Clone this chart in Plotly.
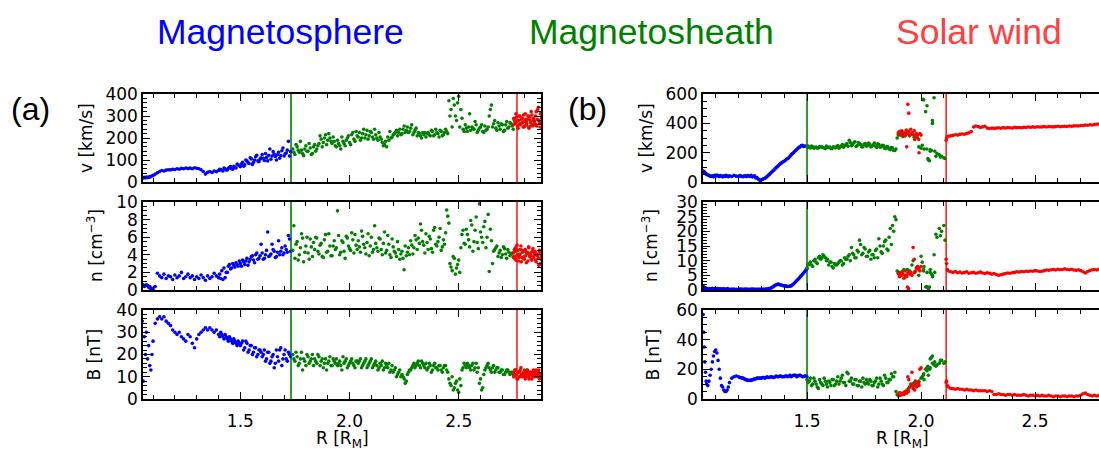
import plotly.graph_objects as go

# ---------------- Panel (a) data ----------------
# Magnetosphere (blue)
a_msp_R = [
    1.050, 1.055, 1.060, 1.065, 1.070, 1.075, 1.080, 1.085, 1.090, 1.095,
    1.100, 1.11, 1.12, 1.13, 1.14, 1.15, 1.16, 1.17, 1.18, 1.19,
    1.20, 1.21, 1.22, 1.23, 1.24, 1.25, 1.26, 1.27, 1.28, 1.29,
    1.30, 1.31, 1.32, 1.33, 1.34, 1.35, 1.36, 1.37, 1.38, 1.39,
    1.40, 1.41, 1.42, 1.43, 1.44, 1.45, 1.46, 1.47, 1.48, 1.49,
    1.50, 1.51, 1.52, 1.53, 1.54, 1.55, 1.56, 1.57, 1.58, 1.59,
    1.60, 1.61, 1.62, 1.63, 1.64, 1.65, 1.66, 1.67, 1.68, 1.69,
    1.70, 1.71, 1.72, 1.73,
    1.505, 1.515, 1.525, 1.535, 1.545, 1.555, 1.565, 1.575, 1.585, 1.595,
    1.605, 1.615, 1.625, 1.635, 1.645, 1.655, 1.665, 1.675, 1.685, 1.695,
    1.705, 1.715, 1.725,
    1.405, 1.415, 1.425, 1.435, 1.445, 1.455, 1.465, 1.475, 1.485, 1.495,
]
a_msp_v = [
    20, 18, 21, 19, 22, 20, 23, 22, 25, 27,
    30, 36, 42, 48, 52, 50, 54, 56, 55, 58,
    57, 60, 58, 62, 60, 64, 61, 63, 60, 65,
    62, 60, 56, 48, 36, 44, 48, 43, 50, 47,
    52, 57, 50, 60, 55, 66, 60, 72, 64, 78,
    70, 90, 78, 96, 84, 105, 90, 115, 96, 104,
    125, 98, 112, 122, 104, 138, 116, 124, 108, 142,
    118, 132, 185, 138,
    82, 72, 100, 88, 110, 80, 100, 122, 92, 110,
    108, 130, 96, 150, 118, 126, 100, 135, 120, 155,
    128, 145, 118,
    58, 52, 64, 55, 62, 70, 58, 68, 82, 74,
]
a_msp_n = [
    0.5, 0.6, 0.4, 0.5, 0.6, 0.5, 0.3, 0.4, 0.1, 0.2,
    0.1, 0.4, 1.9, 1.6, 1.4, 1.8, 1.3, 1.6, 1.5, 1.2,
    1.7, 1.4, 1.6, 2.0, 1.3, 1.5, 1.8, 1.4, 1.6, 1.2,
    1.5, 1.3, 1.7, 1.4, 1.1, 1.6, 1.3, 1.5, 1.9, 1.6,
    1.4, 1.3, 1.2, 1.4, 2.0, 2.9, 2.5, 2.8, 3.1, 2.7,
    3.0, 3.4, 2.9, 3.6, 3.2, 3.8, 3.4, 4.0, 3.5, 3.9,
    4.2, 3.6, 4.5, 3.8, 4.1, 4.6, 3.7, 4.3, 4.0, 4.8,
    4.2, 4.6, 6.2, 4.4,
    2.7, 3.2, 3.3, 2.8, 3.5, 3.9, 3.1, 4.2, 3.6, 5.2,
    3.5, 4.0, 6.6, 3.9, 5.2, 4.4, 3.8, 5.6, 4.4, 4.0,
    5.0, 4.3, 5.8,
    1.8, 2.2, 2.5, 2.0, 2.7, 2.4, 3.0, 2.6, 2.9, 3.3,
]
a_msp_B = [
    35, 8, 28, 20, 30, 18, 24, 15, 13, 20,
    26, 34, 36, 37, 36, 37, 35, 34, 33, 31,
    30, 29, 30, 28, 27, 26, 29, 28, 25, 23,
    27, 29, 30, 31, 32, 31, 32, 31, 30, 31,
    29, 30, 28, 29, 27, 28, 26, 27, 25, 26,
    24, 26, 23, 25, 22, 24, 21, 23, 20, 22,
    19, 22, 18, 21, 17, 20, 16, 19, 22, 15,
    20, 18, 21, 19,
    25, 22, 26, 21, 24, 20, 23, 19, 22, 21,
    20, 17, 21, 16, 19, 14, 22, 17, 23, 18,
    22, 17, 20,
    28, 29, 27, 28, 26, 27, 25, 26, 24, 25,
]

# Magnetosheath (green)
a_msh_R = [
    1.74, 1.75, 1.76, 1.77, 1.78, 1.79, 1.80, 1.81, 1.82, 1.83,
    1.84, 1.85, 1.86, 1.87, 1.88, 1.89, 1.90, 1.91, 1.92, 1.93,
    1.94, 1.95, 1.96, 1.97, 1.98, 1.99, 2.00, 2.01, 2.02, 2.03,
    2.04, 2.05, 2.06, 2.07, 2.08, 2.09, 2.10, 2.11, 2.12, 2.13,
    2.14, 2.15, 2.16, 2.17, 2.18, 2.19, 2.20, 2.21, 2.22, 2.23,
    2.24, 2.25, 2.26, 2.27, 2.28, 2.29, 2.30, 2.31, 2.32, 2.33,
    2.34, 2.35, 2.36, 2.37, 2.38, 2.39, 2.40, 2.41, 2.42, 2.43,
    2.44, 2.45, 2.46, 2.47, 2.48, 2.49, 2.50, 2.51, 2.52, 2.53,
    2.54, 2.55, 2.56, 2.57, 2.58, 2.59, 2.60, 2.61, 2.62, 2.63,
    2.64, 2.65, 2.66, 2.67, 2.68, 2.69, 2.70, 2.71, 2.72, 2.73,
    2.74, 2.75, 2.76,
    1.745, 1.755, 1.765, 1.775, 1.785, 1.795, 1.805, 1.815, 1.825, 1.835,
    1.845, 1.855, 1.865, 1.875, 1.885, 1.895, 1.905, 1.915, 1.925, 1.935,
    1.945, 1.955, 1.965, 1.975, 1.985, 1.995, 2.005, 2.015, 2.025, 2.035,
    2.045, 2.055, 2.065, 2.075, 2.085, 2.095, 2.105, 2.115, 2.125, 2.135,
    2.145, 2.155, 2.165, 2.175, 2.185, 2.195, 2.205, 2.215, 2.225, 2.235,
    2.245, 2.255, 2.265, 2.275, 2.285, 2.295, 2.305, 2.315, 2.325, 2.335,
    2.345, 2.355, 2.365, 2.375, 2.385, 2.395, 2.405, 2.415, 2.425, 2.435,
    2.445, 2.455, 2.465, 2.475, 2.485, 2.495, 2.505, 2.515, 2.525, 2.535,
    2.545, 2.555, 2.565, 2.575, 2.585, 2.595, 2.605, 2.615, 2.625, 2.635,
    2.645, 2.655, 2.665, 2.675, 2.685, 2.695, 2.705, 2.715, 2.725, 2.735,
    2.745, 2.755, 2.78, 2.79, 2.80, 2.81, 2.82, 2.83, 2.84, 2.85,
]
a_msh_v = [
    150, 125, 160, 135, 145, 120, 165, 140, 155, 130,
    170, 150, 175, 195, 180, 215, 190, 200, 175, 185,
    160, 175, 150, 185, 165, 200, 180, 215, 195, 230,
    205, 190, 220, 200, 235, 210, 225, 195, 215, 190,
    205, 180, 170, 160, 190, 200, 215, 225, 210, 240,
    220, 255, 235, 225, 245, 215, 235, 210, 220, 200,
    215, 205, 225, 210, 230, 215, 225, 205, 230, 215,
    240, 220, 300, 250, 350, 280, 390, 330, 240, 260,
    230, 310, 250, 240, 260, 235, 250, 230, 255, 240,
    300, 350, 265, 245, 270, 240, 260, 235, 275, 250,
    265, 240, 270,
    135, 170, 145, 185, 130, 150, 140, 175, 125, 160,
    140, 165, 210, 160, 200, 170, 220, 185, 205, 165,
    190, 165, 205, 175, 190, 210, 170, 225, 185, 210,
    225, 200, 240, 215, 195, 230, 205, 240, 200, 225,
    195, 165, 185, 205, 230, 205, 220, 235, 225, 215,
    240, 225, 250, 230, 260, 225, 245, 225, 210, 225,
    225, 220, 215, 235, 210, 240, 220, 235, 210, 225,
    230, 370, 330, 380, 300, 360, 250, 290, 230, 245,
    250, 235, 245, 275, 225, 245, 260, 225, 235, 250,
    330, 250, 280, 235, 255, 265, 230, 260, 245, 270,
    255, 280, 265, 290, 250, 275, 300, 255, 280, 260,
]
a_msh_n = [
    4.5, 3.6, 5.5, 4.0, 6.4, 3.2, 5.0, 4.2, 5.8, 3.8,
    4.6, 5.9, 4.1, 5.3, 3.7, 6.3, 4.4, 5.0, 3.9, 5.6,
    4.8, 6.2, 4.3, 5.4, 3.6, 5.9, 4.7, 6.5, 4.2, 5.1,
    5.6, 4.3, 6.1, 4.8, 5.4, 3.9, 6.0, 4.6, 5.3, 4.4,
    5.8, 4.0, 6.6, 4.5, 5.2, 3.7, 4.9, 4.2, 5.5, 3.5,
    4.4, 2.3, 3.9, 4.8, 5.6, 4.1, 6.2, 4.6, 5.3, 6.8,
    5.1, 6.4, 4.6, 5.8, 4.3, 7.1, 5.0, 6.0, 4.5, 5.7,
    6.5, 8.4, 3.0, 2.2, 3.6, 2.5, 3.4, 4.8, 6.8, 5.2,
    6.3, 4.9, 7.4, 5.5, 8.3, 4.7, 6.6, 5.4, 7.8, 6.0,
    2.1, 5.6, 4.4, 4.8, 3.8, 4.5, 4.0, 4.7, 3.6, 4.3,
    4.1, 3.7, 4.4,
    7.3, 5.2, 3.4, 4.8, 5.9, 4.3, 6.0, 3.5, 4.9, 5.4,
    6.0, 4.4, 5.1, 3.8, 5.7, 4.3, 6.4, 3.9, 5.0, 4.6,
    9.0, 4.0, 5.6, 4.4, 6.1, 5.0, 4.5, 5.7, 6.3, 4.6,
    4.9, 6.7, 5.2, 4.1, 6.4, 5.0, 4.3, 7.3, 4.8, 5.9,
    4.6, 5.3, 4.2, 6.2, 4.0, 5.8, 4.4, 3.8, 4.6, 4.1,
    3.6, 5.0, 4.3, 4.0, 5.1, 4.8, 5.7, 5.9, 7.5, 5.5,
    4.2, 5.4, 6.1, 4.7, 6.8, 5.2, 5.5, 7.0, 4.9, 5.2,
    9.1, 7.6, 2.6, 3.8, 1.8, 2.9, 2.0, 6.3, 5.3, 6.9,
    5.7, 7.9, 4.4, 6.8, 5.4, 9.8, 6.0, 7.2, 4.8, 8.6,
    6.9, 3.0, 4.6, 5.0, 4.2, 3.7, 4.9, 4.1, 4.6, 3.9,
    4.2, 4.6, 4.0, 4.5, 3.8, 4.3, 4.1, 3.9, 4.4, 4.0,
]
a_msh_B = [
    20, 17, 19, 16, 21, 18, 15, 19, 17, 20,
    18, 16, 19, 17, 14, 18, 16, 19, 15, 17,
    18, 16, 15, 19, 17, 14, 16, 18, 15, 17,
    16, 18, 15, 17, 14, 16, 18, 15, 17, 13,
    16, 17, 14, 15, 16, 13, 12, 14, 11, 13,
    11, 9, 8, 12, 13, 15, 14, 16, 15, 17,
    15, 16, 14, 15, 13, 16, 14, 15, 13, 14,
    15, 12, 7, 10, 5, 8, 3, 6, 14, 15,
    16, 14, 15, 13, 16, 14, 9, 5, 13, 15,
    14, 12, 15, 13, 14, 12, 13, 11, 13, 12,
    12, 11, 13,
    18, 21, 15, 18, 13, 17, 20, 16, 18, 15,
    17, 20, 15, 18, 16, 13, 17, 15, 18, 16,
    15, 17, 13, 16, 18, 15, 17, 16, 14, 17,
    17, 14, 16, 18, 15, 17, 14, 16, 15, 14,
    15, 13, 16, 14, 12, 15, 13, 10, 12, 10,
    10, 7, 11, 13, 14, 16, 15, 17, 14, 16,
    14, 13, 16, 12, 15, 14, 13, 15, 12, 15,
    13, 9, 6, 4, 7, 4, 9, 13, 16, 14,
    15, 13, 16, 14, 12, 7, 4, 11, 14, 16,
    13, 14, 12, 14, 12, 13, 11, 12, 13, 11,
    12, 11, 12, 11, 13, 12, 11, 12, 11, 12,
]

# Solar wind (red)
a_sw_R = [
    2.750, 2.755, 2.760, 2.765, 2.770, 2.775, 2.780, 2.785, 2.790, 2.795,
    2.800, 2.805, 2.810, 2.815, 2.820, 2.825, 2.830, 2.835, 2.840, 2.845,
    2.850, 2.855, 2.860, 2.865, 2.870, 2.875, 2.880,
    2.752, 2.757, 2.762, 2.767, 2.772, 2.777, 2.782, 2.787, 2.792, 2.797,
    2.802, 2.807, 2.812, 2.817, 2.822, 2.827, 2.832, 2.837, 2.842, 2.847,
    2.852, 2.857, 2.862, 2.867, 2.872, 2.877,
]
a_sw_v = [
    260, 285, 270, 295, 255, 280, 300, 265, 290, 250,
    275, 310, 260, 285, 250, 295, 270, 305, 255, 280,
    265, 320, 285, 340, 270, 310, 290,
    290, 265, 310, 275, 245, 300, 260, 285, 270, 305,
    255, 285, 265, 300, 245, 280, 320, 260, 290, 275,
    300, 255, 330, 280, 250, 315,
]
a_sw_n = [
    4.2, 3.6, 4.8, 3.9, 4.5, 3.3, 4.1, 5.0, 3.7, 4.4,
    3.5, 4.6, 3.1, 4.3, 4.9, 3.8, 4.2, 3.4, 4.7, 3.9,
    4.4, 3.2, 4.0, 3.6, 4.5, 3.0, 3.8,
    3.8, 4.5, 3.4, 5.1, 4.0, 3.7, 4.6, 3.2, 4.3, 3.6,
    4.5, 3.9, 4.2, 3.3, 4.8, 4.0, 3.5, 4.4, 3.7, 4.2,
    3.4, 4.1, 3.9, 2.8, 4.3, 3.5,
]
a_sw_B = [
    12, 10, 13, 11, 9, 12, 10, 14, 11, 10,
    12, 9, 11, 13, 10, 12, 11, 9, 12, 10,
    11, 13, 10, 12, 9, 11, 10,
    10, 13, 11, 9, 12, 10, 13, 11, 10, 12,
    11, 10, 13, 12, 9, 11, 12, 10, 13, 11,
    10, 12, 11, 13, 10, 11,
]
a_boundaries = [1.732, 2.767]

# ---------------- Panel (b) data ----------------
b_msp_R = [
    1.045, 1.048, 1.050, 1.052, 1.055, 1.058, 1.060, 1.065, 1.070, 1.075,
    1.080, 1.085, 1.090, 1.095, 1.100, 1.105, 1.110, 1.115, 1.120, 1.125,
    1.130, 1.135, 1.140, 1.145, 1.150, 1.155, 1.160, 1.170, 1.180, 1.190,
    1.20, 1.21, 1.22, 1.23, 1.24, 1.25, 1.26, 1.27, 1.28, 1.29,
    1.30, 1.31, 1.32, 1.33, 1.34, 1.35, 1.36, 1.37, 1.38, 1.39,
    1.40, 1.41, 1.42, 1.43, 1.44, 1.45, 1.46, 1.47, 1.48, 1.49,
    1.50, 1.205, 1.215, 1.225, 1.235, 1.245, 1.255, 1.265, 1.275, 1.285,
    1.295, 1.305, 1.315, 1.325, 1.335, 1.345, 1.355, 1.365, 1.375, 1.385,
    1.395, 1.405, 1.415, 1.425, 1.435, 1.445, 1.455, 1.465, 1.475, 1.485,
    1.495,
]
b_msp_v = [
    75, 62, 70, 58, 60, 55, 52, 48, 45, 40,
    38, 42, 35, 45, 40, 48, 42, 38, 44, 40,
    35, 42, 38, 45, 40, 36, 42, 38, 45, 40,
    38, 42, 36, 40, 44, 38, 35, 42, 30, 15,
    15, 22, 30, 45, 60, 75, 90, 105, 120, 132,
    142, 155, 165, 185, 200, 215, 230, 240, 250, 245,
    242, 44, 38, 42, 37, 41, 45, 38, 28, 22,
    12, 18, 26, 38, 52, 68, 82, 98, 112, 128,
    138, 148, 160, 175, 192, 208, 222, 236, 248, 242,
    244,
]
b_msp_n = [
    1.2, 0.6, 0.9, 0.4, 0.7, 0.3, 0.6, 0.4, 0.3, 0.5,
    0.4, 0.6, 0.3, 0.5, 0.4, 0.3, 0.5, 0.3, 0.4, 0.3,
    0.3, 0.4, 0.2, 0.3, 0.4, 0.3, 0.2, 0.3, 0.3, 0.2,
    0.2, 0.3, 0.2, 0.3, 0.2, 0.2, 0.3, 0.2, 0.2, 0.2,
    0.2, 0.2, 0.3, 0.4, 0.6, 1.0, 1.6, 1.9, 1.8, 1.6,
    1.4, 1.3, 1.2, 1.4, 2.0, 2.8, 3.6, 4.5, 5.4, 6.3,
    7.2, 0.2, 0.2, 0.2, 0.2, 0.2, 0.2, 0.2, 0.2, 0.2,
    0.2, 0.2, 0.2, 0.3, 0.5, 0.8, 1.3, 1.8, 2.0, 1.7,
    1.5, 1.3, 1.2, 1.3, 1.7, 2.4, 3.2, 4.0, 4.9, 5.8,
    6.8,
]
b_msp_B = [
    57, 45, 35, 25, 18, 12, 10, 9, 12, 16,
    20, 25, 29, 32, 33, 31, 26, 20, 14, 9,
    8, 6, 5, 5, 6, 8, 11, 14, 15, 15.5,
    15, 14.5, 14, 13, 12.5, 12.5, 13, 13.5, 14, 14,
    14, 14.5, 14.5, 14.5, 15, 14.5, 15, 15, 15.5, 15,
    15, 15.5, 15.5, 15, 16, 16, 15.5, 16, 15, 15.5,
    15, 14.5, 14, 13.5, 13, 12.5, 12.5, 13, 13.5, 14,
    14, 14.5, 14, 15, 14.5, 15, 14.5, 15.5, 15, 15.5,
    15, 15.5, 15, 16, 15.5, 16, 15, 16, 15.5, 15,
    15.5,
]

b_msh_R = [
    1.50, 1.51, 1.52, 1.53, 1.54, 1.55, 1.56, 1.57, 1.58, 1.59,
    1.60, 1.61, 1.62, 1.63, 1.64, 1.65, 1.66, 1.67, 1.68, 1.69,
    1.70, 1.71, 1.72, 1.73, 1.74, 1.75, 1.76, 1.77, 1.78, 1.79,
    1.80, 1.81, 1.82, 1.83, 1.84, 1.85, 1.86, 1.87, 1.88, 1.89,
    1.895, 1.90, 1.91, 1.92, 1.93, 1.94, 1.95, 1.96, 1.97, 1.98,
    1.99, 2.00, 2.01, 2.02, 2.03, 2.04, 2.05, 2.06, 2.07, 2.08,
    2.09, 2.10, 2.105, 1.505, 1.515, 1.525, 1.535, 1.545, 1.555, 1.565,
    1.575, 1.585, 1.595, 1.605, 1.615, 1.625, 1.635, 1.645, 1.655, 1.665,
    1.675, 1.685, 1.695, 1.705, 1.715, 1.725, 1.735, 1.745, 1.755, 1.765,
    1.775, 1.785, 1.795, 1.805, 1.815, 1.825, 1.835, 1.845, 1.855, 1.865,
    1.875, 1.885, 1.905, 1.925, 1.945, 1.965, 1.985, 2.005, 2.025, 2.045,
    2.065, 2.085, 2.011, 2.026, 2.057, 2.050, 2.013, 2.032, 2.037, 2.040,
]
b_msh_v = [
    240, 235, 245, 230, 238, 232, 240, 236, 228, 234,
    238, 228, 235, 242, 230, 245, 238, 250, 244, 270,
    255, 275, 248, 262, 240, 258, 245, 265, 240, 252,
    245, 260, 238, 250, 230, 242, 225, 235, 215, 225,
    300, 320, 330, 310, 325, 340, 315, 330, 305, 320,
    240, 230, 565, 480, 160, 220, 400, 210, 195, 185,
    175, 165, 160, 245, 232, 240, 236, 230, 242, 238,
    232, 245, 236, 228, 240, 233, 248, 238, 255, 250,
    262, 285, 248, 268, 242, 270, 255, 240, 262, 248,
    258, 244, 265, 236, 255, 240, 248, 228, 238, 220,
    232, 215, 330, 315, 345, 322, 300, 250, 225, 215,
    175, 170, 560, 520, 575, 420, 225, 150, 145, 210,
]
b_msh_n = [
    7.5, 9.0, 8.5, 10.0, 9.5, 11.0, 10.5, 12.0, 11.0, 10.5,
    9.5, 8.0, 9.0, 8.5, 9.5, 10.0, 9.0, 10.5, 11.5, 10.0,
    12.5, 11.0, 13.5, 17.0, 12.0, 14.5, 11.5, 13.0, 10.5, 12.0,
    13.5, 11.0, 15.0, 12.5, 16.5, 14.0, 18.0, 15.5, 20.0, 24.0,
    6.5, 6.0, 5.5, 6.5, 5.0, 7.0, 6.5, 8.5, 6.0, 7.5,
    5.0, 11.5, 6.5, 1.0, 0.8, 7.0, 4.5, 6.0, 18.0, 21.0,
    20.0, 22.0, 17.0, 8.5, 9.5, 8.0, 10.5, 9.0, 11.5, 11.0,
    11.5, 10.0, 8.5, 9.5, 7.5, 8.5, 9.0, 10.0, 8.5, 11.0,
    10.5, 12.0, 14.5, 12.0, 11.0, 13.0, 15.5, 12.5, 14.0, 11.5,
    13.5, 12.0, 11.0, 14.0, 17.5, 13.0, 15.0, 17.0, 13.5, 21.0,
    22.0, 25.0, 5.5, 7.0, 6.5, 10.0, 8.0, 9.5, 1.2, 5.5,
    19.0, 18.5, 7.0, 6.0, 12.0, 5.0, 8.0, 0.5, 1.0, 6.0,
]
b_msh_B = [
    13, 12, 9, 14, 10, 7, 11, 9, 12, 8,
    11, 13, 9, 12, 10, 14, 11, 9, 17, 12,
    10, 13, 9, 12, 8, 11, 13, 10, 12, 9,
    12, 8, 14, 10, 16, 11, 13, 17, 15, 5,
    3, 2, 4, 3, 5, 6, 8, 9, 11, 10,
    12, 14, 16, 20, 22, 27, 24, 25, 23, 24,
    26, 24, 25, 11, 14, 10, 12, 8, 13, 10,
    14, 10, 12, 9, 13, 10, 15, 12, 16, 11,
    18, 12, 14, 10, 13, 9, 12, 14, 10, 11,
    13, 9, 11, 14, 10, 12, 9, 14, 11, 13,
    15, 18, 4, 3, 7, 10, 9, 15, 21, 28,
    22, 26, 17, 19, 23, 29, 13, 16, 20, 21,
]

b_sw_R = [
    1.900, 1.905, 1.910, 1.915, 1.920, 1.925, 1.930, 1.935, 1.940, 1.945,
    1.950, 1.955, 1.960, 1.965, 1.970, 1.975, 1.980, 1.985, 1.990, 1.995,
    1.942, 1.946, 1.937, 1.991, 1.972, 2.000, 2.110, 2.112, 2.115, 2.120,
    2.13, 2.14, 2.15, 2.16, 2.17, 2.18, 2.19, 2.20, 2.21, 2.22,
    2.23, 2.24, 2.25, 2.26, 2.27, 2.28, 2.29, 2.30, 2.31, 2.32,
    2.33, 2.34, 2.35, 2.36, 2.37, 2.38, 2.39, 2.40, 2.41, 2.42,
    2.43, 2.44, 2.45, 2.46, 2.47, 2.48, 2.49, 2.50, 2.51, 2.52,
    2.53, 2.54, 2.55, 2.56, 2.57, 2.58, 2.59, 2.60, 2.61, 2.62,
    2.63, 2.64, 2.65, 2.66, 2.67, 2.68, 2.69, 2.70, 2.71, 2.72,
    2.73, 2.74, 2.75, 2.76, 2.77, 2.78, 2.79,
]
b_sw_v = [
    335, 345, 320, 350, 330, 340, 315, 355, 330, 345,
    320, 360, 335, 325, 350, 310, 330, 320, 290, 330,
    530, 470, 240, 200, 290, 320, 285, 300, 310, 312,
    315, 318, 322, 320, 325, 328, 326, 332, 335, 345,
    375, 382, 378, 372, 376, 380, 368, 365, 368, 366,
    368, 370, 367, 371, 369, 372, 370, 368, 373, 371,
    372, 370, 374, 372, 375, 373, 376, 374, 377, 375,
    376, 378, 375, 379, 377, 376, 378, 380, 377, 379,
    381, 379, 382, 380, 383, 384, 382, 386, 385, 388,
    387, 390, 389, 392, 394, 396, 395,
]
b_sw_n = [
    5.5, 4.5, 6.0, 5.0, 5.5, 4.0, 6.5, 5.0, 1.0, 0.5,
    5.5, 6.0, 5.0, 14.5, 10.5, 6.5, 7.5, 8.0, 7.0, 6.5,
    6.0, 5.5, 4.5, 7.5, 6.0, 8.0, 10.5, 9.0, 7.0, 6.5,
    6.2, 6.0, 6.3, 5.9, 6.1, 5.8, 6.0, 6.2, 5.7, 5.9,
    6.0, 5.7, 5.9, 6.1, 5.8, 5.6, 5.9, 5.7, 5.4, 5.6,
    5.3, 5.0, 5.2, 5.4, 5.6, 5.8, 5.7, 5.9, 6.0, 6.2,
    6.1, 6.3, 6.2, 6.4, 6.3, 6.5, 6.4, 6.6, 6.5, 6.3,
    6.4, 6.6, 6.8, 6.7, 6.9, 7.0, 6.8, 7.1, 6.9, 7.0,
    7.2, 7.0, 6.9, 7.1, 6.8, 6.7, 6.9, 6.6, 6.2, 5.8,
    6.3, 6.6, 6.9, 7.0, 6.8, 7.1, 7.0,
]
b_sw_B = [
    3, 4, 2.5, 3.5, 4, 3, 5, 4, 6, 5,
    8, 10, 18, 7, 9, 12, 8, 10, 11, 20,
    15, 13, 4, 9, 6, 21, 11, 12, 9, 8,
    7, 7, 6.5, 7, 6.5, 6.5, 6, 6.5, 6, 6,
    5.5, 6, 5.5, 5.5, 5.5, 5.5, 5, 5.5, 5, 3,
    3, 3.5, 3, 3, 2.5, 3, 3, 2.5, 3, 2.5,
    2.5, 2.5, 3, 2.5, 2, 2.5, 2.5, 2, 2.5, 2,
    2.5, 2, 2, 2.5, 2, 1.5, 2, 2, 1.5, 2,
    2, 1.5, 2, 2, 1.5, 2, 2, 2.5, 3.5, 4,
    3, 2.5, 2, 2.5, 2, 2.5, 2,
]
b_boundaries = [1.50, 2.11]

region_titles = ["Magnetosphere", "Magnetosheath", "Solar wind"]
panel_labels = ["(a)", "(b)"]
y_titles = ["v [km/s]", "n [cm<sup>−3</sup>]", "B [nT]"]
x_title = "R [R<sub>M</sub>]"

# ---------------- styling ----------------
W, H = 1099, 450
BLUE, GREEN, RED = "#0000ff", "#008000", "#ff0000"
TITLE_COLORS = ["#0000ff", "#008000", "#ff4040"]
TICK_FONT = dict(family="DejaVu Sans", size=17, color="black")

col_dom = {"a": [143 / W, 541 / W], "b": [703 / W, 1.0]}
row_px = [(88, 180), (201, 293), (314, 407)]
row_dom = [[1 - b / H, 1 - t / H] for (t, b) in row_px]
x_ranges = {"a": [1.054, 2.877], "b": [1.044, 2.78]}
y_setup = {
    "a": [([0, 400], 100, 20), ([0, 10], 2, 0.5), ([0, 40], 10, 2)],
    "b": [([0, 600], 200, 50), ([0, 30], 5, 1), ([0, 60], 20, 5)],
}

data = {
    "a": [(a_msp_R, [a_msp_v, a_msp_n, a_msp_B], BLUE),
          (a_msh_R, [a_msh_v, a_msh_n, a_msh_B], GREEN),
          (a_sw_R, [a_sw_v, a_sw_n, a_sw_B], RED)],
    "b": [(b_msp_R, [b_msp_v, b_msp_n, b_msp_B], BLUE),
          (b_msh_R, [b_msh_v, b_msh_n, b_msh_B], GREEN),
          (b_sw_R, [b_sw_v, b_sw_n, b_sw_B], RED)],
}
bounds = {"a": a_boundaries, "b": b_boundaries}

fig = go.Figure()
layout = dict(width=W, height=H, margin=dict(l=0, r=0, t=0, b=0),
              paper_bgcolor="white", plot_bgcolor="white", showlegend=False)
shapes, annotations = [], []

idx = 0
for panel in ["a", "b"]:
    for row in range(3):
        idx += 1
        xa = "x" if idx == 1 else f"x{idx}"
        ya = "y" if idx == 1 else f"y{idx}"
        for R, vals, color in data[panel]:
            fig.add_trace(go.Scatter(
                x=R, y=vals[row], mode="markers", xaxis=xa, yaxis=ya,
                marker=dict(color=color, size=3.6, line=dict(width=0)),
                hoverinfo="skip"))
        yr, dt, mdt = y_setup[panel][row]
        layout[f"xaxis{idx}"] = dict(
            domain=col_dom[panel], range=x_ranges[panel], anchor=ya,
            showgrid=False, zeroline=False, showline=True, linecolor="black",
            linewidth=1.5, mirror="ticks", ticks="inside", ticklen=7,
            tickwidth=1, tickcolor="black", tick0=0, dtick=0.5,
            tickformat=".1f", showticklabels=(row == 2), tickfont=TICK_FONT,
            ticklabelstandoff=6,
            minor=dict(dtick=0.1, tick0=0, ticks="inside", ticklen=4,
                       tickwidth=1, tickcolor="black"))
        layout[f"yaxis{idx}"] = dict(
            domain=row_dom[row], range=yr, anchor=xa,
            showgrid=False, zeroline=False, showline=True, linecolor="black",
            linewidth=1.5, mirror=("ticks" if panel == "a" else False),
            ticks="inside", ticklen=7, tickwidth=1, tickcolor="black",
            tick0=0, dtick=dt, tickfont=TICK_FONT,
            minor=dict(dtick=mdt, tick0=0, ticks="inside", ticklen=4,
                       tickwidth=1, tickcolor="black"))
        for bx, bc in zip(bounds[panel], [GREEN, "#ff2020"]):
            shapes.append(dict(type="line", xref=xa, yref=f"{ya} domain",
                               x0=bx, x1=bx, y0=0, y1=1, layer="below",
                               line=dict(color=bc, width=1.6)))

# y-axis titles
ytitle_x = {"a": [86, 95, 94], "b": [646, 650, 653]}
for panel in ["a", "b"]:
    for row in range(3):
        t, b = row_px[row]
        annotations.append(dict(
            text=y_titles[row], xref="paper", yref="paper",
            x=ytitle_x[panel][row] / W, y=1 - (t + b) / 2 / H,
            xanchor="center", yanchor="middle", textangle=-90,
            showarrow=False, font=dict(family="DejaVu Sans", size=17,
                                       color="black")))
# x-axis titles
for cx in [342, 902]:
    annotations.append(dict(
        text=x_title, xref="paper", yref="paper", x=cx / W, y=1 - 449 / H,
        xanchor="center", yanchor="middle", showarrow=False,
        font=dict(family="DejaVu Sans", size=17, color="black")))
# region titles
for txt, cx, col in zip(region_titles, [280, 651, 979], TITLE_COLORS):
    annotations.append(dict(
        text=txt, xref="paper", yref="paper", x=cx / W, y=1 - 23 / H,
        xanchor="center", yanchor="middle", showarrow=False,
        font=dict(family="Liberation Sans", size=35.5, color=col)))
# panel labels
for txt, cx in zip(panel_labels, [30, 587]):
    annotations.append(dict(
        text=txt, xref="paper", yref="paper", x=cx / W, y=1 - 104 / H,
        xanchor="center", yanchor="middle", showarrow=False,
        font=dict(family="Liberation Sans", size=32, color="black")))

layout["shapes"] = shapes
layout["annotations"] = annotations
fig.update_layout(**layout)
fig.write_html("out.html")
